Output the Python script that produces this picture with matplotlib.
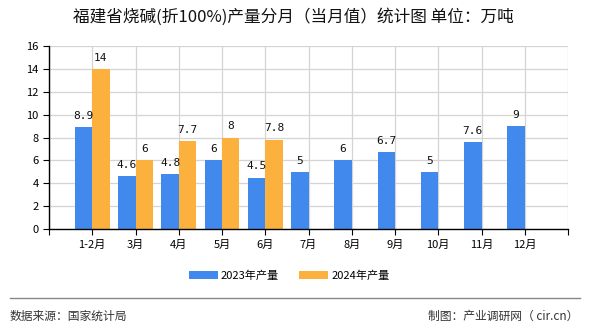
import matplotlib
matplotlib.use("Agg")
import matplotlib.pyplot as plt
import numpy as np
from matplotlib.lines import Line2D

plt.rcParams['font.family'] = ['Noto Sans CJK SC', 'DejaVu Sans']

# ----------------------------------------
# Data (万吨)
# ----------------------------------------
months = ["1-2月", "3月", "4月", "5月", "6月", "7月", "8月", "9月", "10月", "11月", "12月"]
prod_2023 = [8.9, 4.6, 4.8, 6, 4.5, 5, 6, 6.7, 5, 7.6, 9]
prod_2024 = [14, 6, 7.7, 8, 7.8]
label_2023 = "2023年产量"
label_2024 = "2024年产量"

blue = '#4189EC'
orange = '#FCB13F'

fig = plt.figure(figsize=(5.9, 3.3), dpi=100)
ax = fig.add_axes([49/590, 1 - 229/330, (568 - 49)/590, (229 - 46)/330])

x23 = np.arange(len(prod_2023))
x24 = np.arange(len(prod_2024))
w = 0.4
ax.bar(x23 - w/2, prod_2023, width=w, color=blue, label=label_2023, zorder=3)
ax.bar(x24 + w/2, prod_2024, width=w, color=orange, label=label_2024, zorder=3)

def fmt(v):
    return f"{v:g}"

for xi, v in zip(x23, prod_2023):
    ax.text(xi - w/2, v + 0.55, fmt(v), ha='center', va='bottom',
            fontsize=8, family='DejaVu Sans Mono', color='#111111')
for xi, v in zip(x24, prod_2024):
    ax.text(xi + w/2, v + 0.55, fmt(v), ha='center', va='bottom',
            fontsize=8, family='DejaVu Sans Mono', color='#111111')

ax.set_xlim(-1, 11)
ax.set_ylim(0, 16)
ax.set_yticks(range(0, 17, 2))
ax.set_xticks(range(-1, 12))
ax.set_xticklabels([""] + months + [""])
ax.tick_params(axis='both', labelsize=8, length=4, color='black', direction='out')
ax.grid(True, color='#d4d4d4', linewidth=0.9, zorder=0)
for s in ['top', 'right']:
    ax.spines[s].set_visible(False)
for s in ['left', 'bottom']:
    ax.spines[s].set_color('black')
    ax.spines[s].set_linewidth(1.0)
    ax.spines[s].set_zorder(4)

fig.text(0.497, 1 - 17/330, "福建省烧碱(折100%)产量分月（当月值）统计图 单位：万吨",
         ha='center', va='center', fontsize=12, color='#111111')

fig.legend(loc='center', bbox_to_anchor=(0.49, 1 - 276/330), ncol=2, frameon=False,
           fontsize=8, handlelength=2.6, handleheight=0.75, columnspacing=1.8,
           handletextpad=0.3)

fig.add_artist(Line2D([10/590, 580/590], [1 - 298/330, 1 - 298/330],
                      transform=fig.transFigure, color='#888888', linewidth=1))
fig.text(10/590, 1 - 316/330, "数据来源：国家统计局", ha='left', va='center',
         fontsize=8.5, color='#333333')
fig.text(578/590, 1 - 316/330, "制图：产业调研网（ cir.cn）", ha='right', va='center',
         fontsize=8.5, color='#333333')

fig.savefig("out.png", dpi=100)
